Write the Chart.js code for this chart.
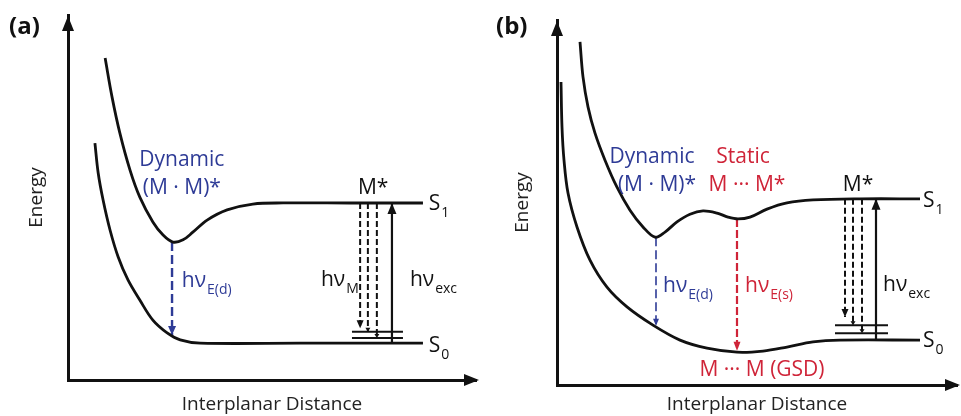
<!DOCTYPE html>
<html>
<head>
<meta charset="utf-8">
<script src="https://cdn.jsdelivr.net/npm/chart.js@4.4.0/dist/chart.umd.min.js"></script>
<style>
  html, body { margin: 0; padding: 0; background: #fff; }
  #wrap { position: relative; width: 961px; height: 416px; }
  canvas { position: absolute; top: 0; }
</style>
</head>
<body>
<div id="wrap">
  <canvas id="chartA" width="480" height="416" style="left:0"></canvas>
  <canvas id="chartB" width="481" height="416" style="left:480px"></canvas>
</div>
<script>
const BLUE = '#2e3b96';
const RED = '#cf2438';
const INK = '#111111';
const FONT = '"Open Sans", "Noto Sans", sans-serif';

// ---- panel (a): x = interplanar distance, y = energy (arbitrary units 0-100)
const aUpperX = [9.1, 10.8, 12.7, 15.2, 17.6, 20.8, 23.3, 25.7, 28.2, 30.6, 34.1, 39.0, 45.3, 52.7, 69.1, 87.0];
const aUpperY = [88.2, 77.5, 67.7, 57.5, 50.1, 43.3, 39.7, 37.8, 38.4, 40.5, 43.8, 46.6, 48.2, 48.5, 48.5, 48.5];
const aLowerX = [6.6, 7.4, 8.6, 10.3, 12.3, 14.7, 17.6, 20.8, 24.3, 27.5, 32.4, 56.9, 87.0];
const aLowerY = [64.9, 56.7, 49.3, 41.1, 33.7, 27.4, 21.9, 16.4, 12.9, 11.0, 10.1, 10.1, 10.1];
const aDimerX = 25.5, aDimerFrom = 37.8, aDimerTo = 12.3;
const aMonoX = [71.6, 73.5, 75.7];
const aMonoTo = [14.2, 13.2, 11.5];
const aS1 = 48.5, aS0 = 10.1;
const aExcX = 79.4;
const aVibY = [13.2, 11.5];
const aVibX = [69.6, 82.1];

// ---- panel (b)
const bUpperX = [5.75, 6.5, 7.75, 9.5, 12.0, 15.0, 18.25, 21.5, 24.5, 27.0, 30.0, 33.25, 36.5, 40.0, 42.75, 45.25, 48.25, 52.5, 57.5, 64.0, 75.75, 90.75];
const bUpperY = [94.0, 84.4, 76.2, 69.0, 61.6, 54.2, 47.9, 43.3, 40.5, 41.9, 44.7, 46.8, 47.7, 47.1, 46.0, 45.5, 46.0, 48.2, 49.9, 50.7, 51.0, 51.0];
const bLowerX = [1.0, 1.25, 1.75, 2.75, 5.0, 8.25, 12.5, 17.5, 24.0, 30.75, 37.5, 45.0, 51.5, 57.5, 64.0, 70.75, 90.75];
const bLowerY = [83.0, 70.7, 61.6, 52.6, 43.3, 34.2, 26.8, 21.4, 16.4, 12.3, 10.1, 9.0, 9.3, 10.4, 11.8, 12.3, 12.3];
const bDimerX = 24.75, bDimerFrom = 40.5, bDimerTo = 16.2;
const bStaticX = 45.0, bStaticFrom = 45.5, bStaticTo = 9.4;
const bMonoX = [72.0, 74.0, 76.25];
const bMonoTo = [18.6, 16.4, 14.2];
const bS1 = 51.0, bS0 = 12.3;
const bExcX = 79.75;
const bVibY = [16.4, 14.2];
const bVibX = [69.5, 82.75];

// text annotations (anchor in data units)
const aLabels = [
    { text: 'Dynamic', x: 27.9, y: 60.3, color: BLUE, align: 'center' },
    { text: '(M \u00B7 M)*', x: 27.9, y: 52.6, color: BLUE, align: 'center' },
    { text: 'h\u03BD', sub: 'E(d)', x: 27.9, y: 27.0, color: BLUE },
    { text: 'M*', x: 74.8, y: 52.6, align: 'center' },
    { text: 'h\u03BD', sub: 'M', x: 62.0, y: 27.5 },
    { text: 'h\u03BD', sub: 'exc', x: 83.8, y: 27.5 },
    { text: 'S', sub: '1', x: 88.4, y: 48.2 },
    { text: 'S', sub: '0', x: 88.4, y: 9.3 }
];
const bLabels = [
    { text: 'Dynamic', x: 23.75, y: 62.5, color: BLUE, align: 'center' },
    { text: '(M \u00B7 M)*', x: 25.0, y: 54.8, color: BLUE, align: 'center' },
    { text: 'Static', x: 46.5, y: 62.5, color: RED, align: 'center' },
    { text: 'M \u00B7\u00B7\u00B7 M*', x: 47.5, y: 54.8, color: RED, align: 'center' },
    { text: 'h\u03BD', sub: 'E(d)', x: 26.5, y: 27.0, color: BLUE },
    { text: 'h\u03BD', sub: 'E(s)', x: 47.0, y: 27.0, color: RED },
    { text: 'M \u00B7\u00B7\u00B7 M (GSD)', x: 51.25, y: 4.1, color: RED, align: 'center' },
    { text: 'M*', x: 75.25, y: 54.8, align: 'center' },
    { text: 'h\u03BD', sub: 'exc', x: 81.5, y: 27.4 },
    { text: 'S', sub: '1', x: 91.5, y: 50.4 },
    { text: 'S', sub: '0', x: 91.5, y: 12.0 }
];

function zip(xs, ys) {
    return xs.map((x, i) => ({ x: x, y: ys[i] }));
}

function curve(xs, ys) {
    return {
        data: zip(xs, ys), showLine: true, borderColor: INK, borderWidth: 2.8,
        pointRadius: 0, tension: 0.35
    };
}

function shaft(x, y0, y1, color, width, dash, head) {
    return {
        data: [{ x: x, y: y0 }, { x: x, y: y1 }], showLine: true,
        borderColor: color, borderWidth: width, borderDash: dash,
        pointRadius: 0, head: head
    };
}

function hline(y, xs) {
    return {
        data: [{ x: xs[0], y: y }, { x: xs[1], y: y }], showLine: true,
        borderColor: INK, borderWidth: 2, pointRadius: 0
    };
}

function drawHead(ctx, x0, y0, x1, y1, len, half, color) {
    const ang = Math.atan2(y1 - y0, x1 - x0);
    ctx.save();
    ctx.translate(x1, y1);
    ctx.rotate(ang);
    ctx.beginPath();
    ctx.moveTo(0, 0);
    ctx.lineTo(-len, -half);
    ctx.lineTo(-len, half);
    ctx.closePath();
    ctx.fillStyle = color;
    ctx.fill();
    ctx.restore();
}

function drawRich(ctx, px, py, l) {
    const main = '21px ' + FONT;
    const small = '14px ' + FONT;
    ctx.font = main;
    const w1 = ctx.measureText(l.text).width;
    let w2 = 0;
    if (l.sub) {
        ctx.font = small;
        w2 = ctx.measureText(l.sub).width + 1;
    }
    const x0 = l.align === 'center' ? px - (w1 + w2) / 2 : px;
    ctx.fillStyle = l.color || INK;
    ctx.textBaseline = 'middle';
    ctx.textAlign = 'left';
    ctx.font = main;
    ctx.fillText(l.text, x0, py);
    if (l.sub) {
        ctx.font = small;
        ctx.fillText(l.sub, x0 + w1 + 1, py + 9);
    }
}

// arrowheads on transitions + axes
const arrowHeads = {
    id: 'arrowHeads',
    afterDatasetsDraw(chart) {
        const ctx = chart.ctx;
        chart.data.datasets.forEach((ds, i) => {
            if (!ds.head) return;
            const pts = chart.getDatasetMeta(i).data;
            const a = pts[0], b = pts[pts.length - 1];
            drawHead(ctx, a.x, a.y, b.x, b.y, ds.head[0], ds.head[1], ds.borderColor);
        });
    },
    afterDraw(chart) {
        const ctx = chart.ctx;
        const area = chart.chartArea;
        const ax = chart.scales.y.right;
        const ay = chart.scales.x.top;
        drawHead(ctx, ax, area.bottom, ax, area.top + 1, 15, 6, INK);
        drawHead(ctx, area.left, ay, area.right + 3, ay, 15, 6, INK);
    }
};

const textLabels = {
    id: 'textLabels',
    afterDraw(chart, args, opts) {
        const ctx = chart.ctx;
        const sx = chart.scales.x, sy = chart.scales.y;
        ctx.save();
        opts.items.forEach(l => drawRich(ctx, sx.getPixelForValue(l.x), sy.getPixelForValue(l.y), l));
        ctx.font = 'bold 24px ' + FONT;
        ctx.fillStyle = INK;
        ctx.textBaseline = 'middle';
        ctx.textAlign = 'left';
        ctx.fillText(opts.tag, opts.tagX, 27);
        ctx.restore();
    }
};

function makeOptions(pad, xTitlePad, yTitlePad, labels, tag, tagX) {
    const axisFont = { family: FONT, size: 19 };
    return {
        responsive: false,
        animation: false,
        events: [],
        layout: { padding: pad },
        plugins: {
            legend: { display: false },
            tooltip: { enabled: false },
            textLabels: { items: labels, tag: tag, tagX: tagX }
        },
        scales: {
            x: {
                type: 'linear', min: 0, max: 100,
                ticks: { display: false },
                grid: { display: false, drawTicks: false },
                border: { display: true, width: 3, color: INK },
                title: { display: true, text: 'Interplanar Distance', color: '#222', font: axisFont, padding: xTitlePad }
            },
            y: {
                type: 'linear', min: 0, max: 100,
                ticks: { display: false },
                grid: { display: false, drawTicks: false },
                border: { display: true, width: 3, color: INK },
                title: { display: true, text: 'Energy', color: '#222', font: axisFont, padding: yTitlePad }
            }
        }
    };
}

// panel (a)
const dsA = [
    curve(aUpperX, aUpperY),
    curve(aLowerX, aLowerY),
    shaft(aDimerX, aDimerFrom, aDimerTo, BLUE, 2.4, [9, 4], [9, 4]),
    shaft(aMonoX[0], aS1, aMonoTo[0], INK, 2, [6, 3], [8, 3.5]),
    shaft(aMonoX[1], aS1, aMonoTo[1], INK, 2, [6, 3], [4, 2.5]),
    shaft(aMonoX[2], aS1, aMonoTo[2], INK, 2, [6, 3], [4, 2.5]),
    shaft(aExcX, aS0, aS1, INK, 2.2, [], [11, 4.5]),
    hline(aVibY[0], aVibX),
    hline(aVibY[1], aVibX)
];

new Chart(document.getElementById('chartA'), {
    type: 'scatter',
    data: { datasets: dsA },
    options: makeOptions({ left: 21.6, top: 15, right: 4, bottom: 0 },
        { top: 13.2, bottom: 0 }, { top: 4, bottom: 19.6 }, aLabels, '(a)', 9),
    plugins: [arrowHeads, textLabels]
});

// panel (b)
const dsB = [
    curve(bUpperX, bUpperY),
    curve(bLowerX, bLowerY),
    shaft(bDimerX, bDimerFrom, bDimerTo, BLUE, 1.6, [9, 4], [7, 3]),
    shaft(bStaticX, bStaticFrom, bStaticTo, RED, 2.2, [8, 3], [9, 3.5]),
    shaft(bMonoX[0], bS1, bMonoTo[0], INK, 2, [6, 3], [8, 3.5]),
    shaft(bMonoX[1], bS1, bMonoTo[1], INK, 2, [6, 3], [4, 2.5]),
    shaft(bMonoX[2], bS1, bMonoTo[2], INK, 2, [6, 3], [4, 2.5]),
    shaft(bExcX, bS0, bS1, INK, 2.2, [], [11, 4.5]),
    hline(bVibY[0], bVibX),
    hline(bVibY[1], bVibX)
];

new Chart(document.getElementById('chartB'), {
    type: 'scatter',
    data: { datasets: dsB },
    options: makeOptions({ left: 27.6, top: 20, right: 4, bottom: 0 },
        { top: 8.2, bottom: 0 }, { top: 4, bottom: 22.6 }, bLabels, '(b)', 16),
    plugins: [arrowHeads, textLabels]
});
</script>
</body>
</html>
